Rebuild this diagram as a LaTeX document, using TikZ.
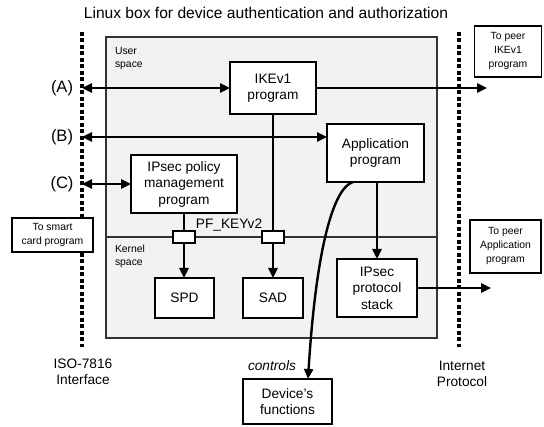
\documentclass[tikz,border=0pt]{standalone}
\usepackage{fontspec}
\setmainfont{Liberation Sans}
\usetikzlibrary{arrows.meta}
\definecolor{panelgray}{HTML}{F2F2F2}
\definecolor{edgegray}{HTML}{333333}

\begin{document}
\begin{tikzpicture}[x=1pt,y=-1pt,
  every node/.style={inner sep=0pt, outer sep=0pt},
  box/.style={draw=black, line width=1.1pt, fill=white, align=center,
    font=\fontsize{13.7}{16.5}\selectfont},
  smallbox/.style={draw=black, line width=1.1pt, fill=white, align=center,
    font=\fontsize{10.4}{14}\selectfont},
  port/.style={draw=black, line width=1.1pt, fill=white,
    minimum width=22pt, minimum height=12pt},
  link/.style={line width=2.4pt, -{Triangle[length=10pt,width=9pt]}},
  dlink/.style={line width=2.4pt,
    {Triangle[length=10pt,width=9pt]}-{Triangle[length=10pt,width=9pt]}},
  boundary/.style={line width=3.2pt, dash pattern=on 4pt off 2.5pt},
  lbl/.style={font=\fontsize{13.7}{16}\selectfont, align=center},
  tag/.style={font=\fontsize{16.5}{18}\selectfont},
  note/.style={font=\fontsize{10.4}{13}\selectfont, align=left, anchor=west},
]
\useasboundingbox (0,0) rectangle (544,427);

% title
\node[font=\fontsize{15.6}{18}\selectfont] (title) at (266,13)
  {Linux box for device authentication and authorization};

% host panel with user / kernel split
\node[draw=edgegray, fill=panelgray, line width=1.1pt,
  minimum width=331pt, minimum height=301pt] (panel) at (271.5,187.5) {};
\coordinate (divl) at (106,237);
\draw[line width=1.1pt, edgegray] (divl) -- (divl -| panel.east);
\node[note] (user) at (115,59) {User\\space};
\node[note] (kern) at (115,256.5) {Kernel\\space};

% interface boundaries
\coordinate (isoT) at (82,32);
\coordinate (isoB) at (82,347);
\coordinate (ipT) at (459,32);
\coordinate (ipB) at (459,347);
\draw[boundary] (isoT) -- (isoB);
\draw[boundary] (ipT) -- (ipB);

% programs and databases
\node[box, minimum width=86pt, minimum height=52pt] (ike) at (273,88) {IKEv1\\program};
\node[box, minimum width=97pt, minimum height=58pt] (app) at (375.5,153) {Application\\program};
\node[box, minimum width=106pt, minimum height=58pt] (pol) at (184,184) {IPsec policy\\management\\program};
\node[box, minimum width=80pt, minimum height=58pt] (ips) at (377,288) {IPsec\\protocol\\stack};
\node[box, minimum width=59pt, minimum height=40pt] (spd) at (184.5,298) {SPD};
\node[box, minimum width=60pt, minimum height=40pt] (sad) at (273,298) {SAD};
\node[box, minimum width=89pt, minimum height=45pt] (dev) at (287.5,401.5) {Device’s\\functions};

% external peers
\node[smallbox, minimum width=81pt, minimum height=34pt] (card) at (52.5,235) {To smart\\card program};
\node[smallbox, minimum width=67pt, minimum height=51pt] (peerA) at (508,51.5) {To peer\\IKEv1\\program};
\node[smallbox, minimum width=71pt, minimum height=53pt] (peerB) at (505.5,246.5) {To peer\\Application\\program};

% side labels
\node[tag] (la) at (62,88) {(A)};
\node[tag] (lb) at (62,137) {(B)};
\node[tag] (lc) at (62,184) {(C)};
\node[lbl] (iso) at (83,372) {ISO-7816\\Interface};
\node[lbl] (inet) at (462,374) {Internet\\Protocol};
\node[lbl] (pfk) at (229,225) {PF\_KEYv2};
\node[lbl, font=\fontsize{13.7}{16}\itshape] (ctl) at (272,366) {controls};

% connectors
\coordinate (aEnd) at (487,88);
\coordinate (sEnd) at (491,288);
\coordinate (bIn) at ([yshift=16pt]app.west);
\draw[dlink] (isoT |- ike.west) -- (ike.west);
\draw[link] (ike.east) -- (aEnd);
\draw[dlink] (isoT |- bIn) -- (bIn);
\draw[dlink] (isoT |- pol.west) -- (pol.west);
\draw[link] (ike.south) -- (sad.north);
\draw[link] (pol.south) -- (pol.south |- spd.north);
\draw[link] (app.south -| ips.north) -- (ips.north);
\draw[link] (ips.east) -- (sEnd);
\draw[link] ([xshift=26pt]app.south west) .. controls (333,188) and (316,250) .. ([xshift=20.5pt]dev.north);

% PF_KEY sockets on the user/kernel border
\node[port] (p1) at (pol.south |- divl) {};
\node[port] (p2) at (ike.south |- divl) {};
\end{tikzpicture}
\end{document}
